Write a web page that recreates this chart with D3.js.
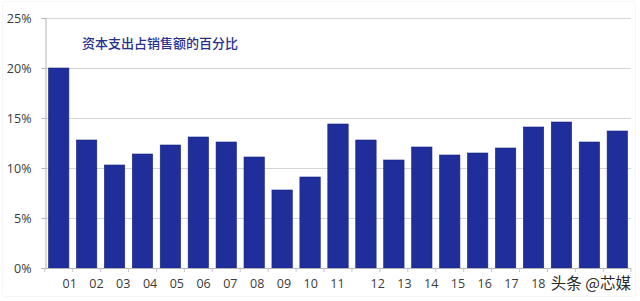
<!DOCTYPE html>
<html>
<head>
<meta charset="utf-8">
<script src="https://cdn.jsdelivr.net/npm/d3@7"></script>
<style>
  html, body { margin: 0; padding: 0; background: #fff; }
  svg { display: block; }
</style>
</head>
<body>
<svg id="chart" width="640" height="301"></svg>
<script>
// ---- data ----
const title = "资本支出占销售额的百分比";
const watermark = "头条 @芯媒";
const barIds = d3.range(1, 22).map(i => "b" + i);
const values = [20.0, 12.8, 10.3, 11.4, 12.3, 13.1, 12.6, 11.1, 7.8, 9.1, 14.4,
                12.8, 10.8, 12.1, 11.3, 11.5, 12.0, 14.1, 14.6, 12.6, 13.7];
const xLabels = ["01","02","03","04","05","06","07","08","09","10","11",
                 "12","13","14","15","16","17","18"];
const yTicks = [0, 5, 10, 15, 20, 25];

// ---- layout ----
const svg = d3.select("#chart");
const mLeft = 45, mRight = 631, mTop = 18, mBottom = 268;

const x = d3.scaleBand().domain(barIds).range([mLeft, mRight])
  .paddingInner(0.27).paddingOuter(0.125);
const y = d3.scaleLinear().domain([0, 25]).range([mBottom, mTop]);

// label positions (source places labels on their own slightly compressed grid,
// with an extra half-slot gap after "11")
const labelSlot = (d, i) => i <= 10 ? i : i + 0.5;
const xl = d3.scaleLinear().domain([0, 17.5]).range([69.7, 538.3]);

// faint frame
svg.append("rect").attr("x", 2.5).attr("y", 1.5).attr("width", 633).attr("height", 295)
  .attr("fill", "none").attr("stroke", "#f6f6f6").attr("rx", 3);

// gridlines
svg.append("g").selectAll("line").data(yTicks.filter(d => d > 0)).join("line")
  .attr("x1", mLeft).attr("x2", mRight)
  .attr("y1", d => Math.round(y(d)) + 0.5).attr("y2", d => Math.round(y(d)) + 0.5)
  .attr("stroke", "#d3d3d8").attr("stroke-width", 1.2);

// y axis
const yAxis = d3.axisLeft(y).tickValues(yTicks).tickFormat(d => d + "%").tickSize(4).tickPadding(10);
const gy = svg.append("g").attr("transform", `translate(${mLeft + 0.5},0)`).call(yAxis);
gy.select(".domain").attr("stroke", "#b4b4bc");
gy.selectAll(".tick line").attr("stroke", "#b4b4bc");
gy.selectAll(".tick text").attr("fill", "#3a3a3a")
  .style("font-family", "'Open Sans', 'DejaVu Sans', sans-serif").style("font-size", "12.5px");

// bars
svg.append("g").selectAll("rect").data(values).join("rect")
  .attr("x", (d, i) => x(barIds[i]))
  .attr("width", x.bandwidth())
  .attr("y", d => y(d))
  .attr("height", d => y(0) - y(d))
  .attr("fill", "#1f2e9b")
  .attr("stroke", "#19257f").attr("stroke-width", 0.6);

// x axis baseline + category ticks
svg.append("line").attr("x1", mLeft).attr("x2", mRight)
  .attr("y1", mBottom + 0.5).attr("y2", mBottom + 0.5).attr("stroke", "#b4b4bc");
const boundaries = barIds.map(id => x(id) - x.step() * x.paddingInner() / 2).concat([mRight]);
svg.append("g").selectAll("line").data(boundaries).join("line")
  .attr("x1", d => d).attr("x2", d => d)
  .attr("y1", mBottom).attr("y2", mBottom + 4)
  .attr("stroke", "#c4c4ca");

// x labels
svg.append("g").selectAll("text").data(xLabels).join("text")
  .attr("x", (d, i) => xl(labelSlot(d, i)))
  .attr("y", 287.5)
  .attr("text-anchor", "middle")
  .attr("fill", "#3a3a3a")
  .style("font-family", "'Open Sans', 'DejaVu Sans', sans-serif").style("font-size", "12.5px")
  .text(d => d);

// title
svg.append("text").attr("x", 82).attr("y", 47.5)
  .attr("fill", "#27308f")
  .style("font-family", "'Noto Sans CJK SC', sans-serif").style("font-size", "13px")
  .style("font-weight", "500")
  .text(title);

// watermark
svg.append("text").attr("x", 631).attr("y", 289).attr("text-anchor", "end")
  .attr("fill", "#2a2a2a").attr("stroke", "#fff").attr("stroke-width", 2.5).attr("paint-order", "stroke")
  .style("font-family", "'Noto Sans CJK SC', sans-serif").style("font-size", "15.5px")
  .text(watermark);
</script>
</body>
</html>
